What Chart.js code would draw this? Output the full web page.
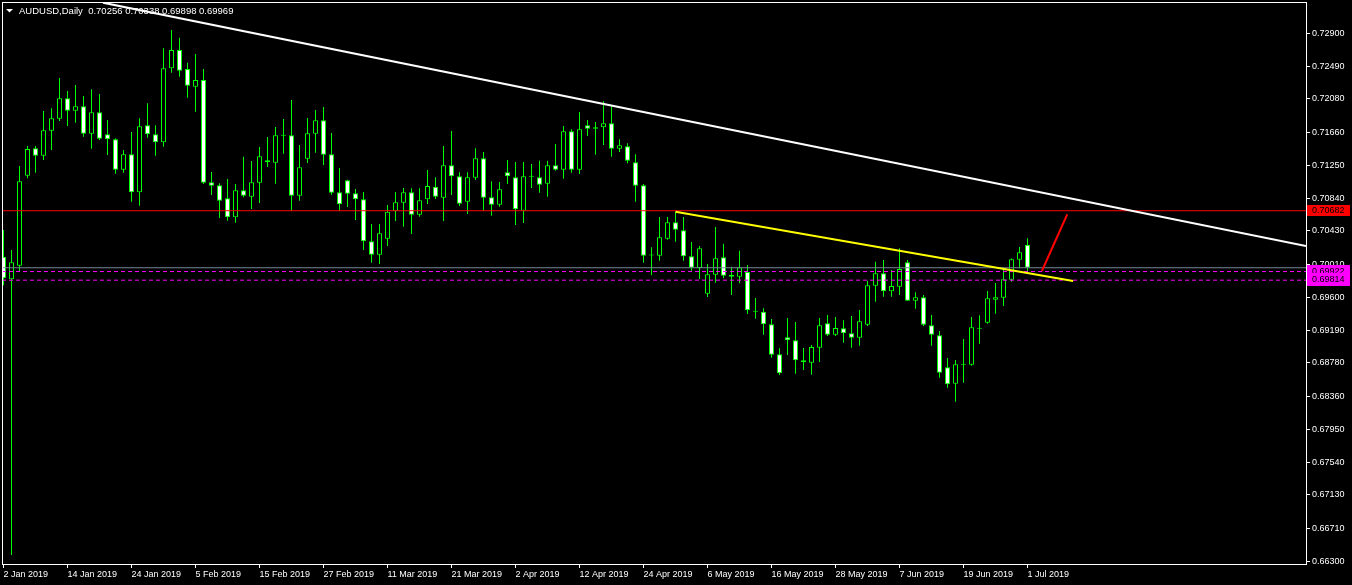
<!DOCTYPE html>
<html><head><meta charset="utf-8">
<script src="https://cdn.jsdelivr.net/npm/chart.js@4/dist/chart.umd.min.js"></script>
<style>html,body{margin:0;padding:0;background:#000;overflow:hidden}canvas{display:block}</style>
</head><body>
<canvas id="c" width="1352" height="585"></canvas>
<script>
// ---- data (AUDUSD Daily, one candle per trading day from 2 Jan 2019 to 1 Jul 2019) ----
const symbolTitle = 'AUDUSD,Daily';
const opens = [0.70108,0.69825,0.69995,0.71120,0.71463,0.71370,0.71683,0.71833,0.72088,0.71933,
0.71988,0.71645,0.71913,0.71638,0.71575,0.71195,0.71388,0.70913,0.71750,0.71638,
0.71538,0.72463,0.72691,0.72454,0.72233,0.72316,0.71038,0.71000,0.70838,0.70600,
0.70938,0.70858,0.71033,0.71313,0.71283,0.71625,0.71625,0.70870,0.71333,0.71645,
0.71813,0.71388,0.70913,0.71063,0.70900,0.70825,0.70300,0.70133,0.70333,0.70675,
0.70783,0.70913,0.70633,0.70825,0.70983,0.70845,0.71250,0.71113,0.70795,0.71095,
0.71338,0.70850,0.70758,0.71163,0.71100,0.70683,0.71108,0.71100,0.71020,0.71250,
0.71195,0.71675,0.71195,0.71750,0.71708,0.71725,0.71775,0.71458,0.71488,0.71288,
0.71000,0.70128,0.70120,0.70333,0.70538,0.70438,0.70113,0.69966,0.69645,0.69883,
0.70100,0.69858,0.69858,0.69916,0.69425,0.69420,0.69263,0.68888,0.69100,0.69063,
0.68813,0.68783,0.68970,0.69275,0.69133,0.69213,0.69150,0.69095,0.69258,0.69745,
0.69900,0.69675,0.69733,0.70038,0.69558,0.69600,0.69250,0.69125,0.68725,0.68520,
0.68758,0.68758,0.69208,0.69283,0.69570,0.69595,0.69820,0.70070,0.70256];
const highs = [0.70441,0.70191,0.71241,0.71491,0.71491,0.71929,0.71963,0.72341,0.72179,0.72254,
0.72116,0.72200,0.72141,0.71816,0.71588,0.71441,0.71666,0.71838,0.72025,0.71750,
0.72713,0.72941,0.72845,0.72533,0.72641,0.72454,0.71166,0.71025,0.71079,0.71016,
0.71358,0.71304,0.71479,0.71604,0.71729,0.71829,0.72066,0.71504,0.71841,0.71941,
0.71979,0.71654,0.71216,0.71070,0.70954,0.70916,0.70516,0.70516,0.70754,0.70916,
0.70966,0.70963,0.70963,0.71191,0.71100,0.71491,0.71679,0.71163,0.71163,0.71463,
0.71416,0.71050,0.71041,0.71316,0.71291,0.71291,0.71266,0.71308,0.71308,0.71516,
0.71741,0.71700,0.71916,0.71816,0.71791,0.72050,0.72000,0.71575,0.71525,0.71388,
0.71016,0.70225,0.70604,0.70604,0.70670,0.70604,0.70291,0.70241,0.70016,0.70479,
0.70270,0.69983,0.70183,0.70004,0.69591,0.69463,0.69329,0.68963,0.69341,0.69291,
0.68966,0.69004,0.69341,0.69379,0.69354,0.69313,0.69366,0.69441,0.69808,0.70045,
0.70066,0.69941,0.70213,0.70066,0.69663,0.69629,0.69379,0.69179,0.68841,0.68816,
0.69079,0.69354,0.69375,0.69679,0.69779,0.69963,0.70085,0.70229,0.70338];
const lows = [0.69750,0.66380,0.69920,0.71088,0.71158,0.71316,0.71441,0.71804,0.71741,0.71783,
0.71608,0.71458,0.71566,0.71379,0.71145,0.71158,0.70795,0.70745,0.71595,0.71370,
0.71483,0.72408,0.72358,0.72095,0.71920,0.71016,0.70879,0.70591,0.70558,0.70533,
0.70850,0.70704,0.70779,0.71229,0.71020,0.71395,0.70679,0.70808,0.71279,0.71408,
0.71254,0.70883,0.70679,0.70729,0.70566,0.70191,0.70033,0.70016,0.70241,0.70554,
0.70483,0.70391,0.70608,0.70766,0.70829,0.70554,0.70879,0.70741,0.70641,0.71066,
0.70683,0.70620,0.70733,0.71016,0.70504,0.70529,0.70966,0.70908,0.70858,0.71183,
0.71083,0.71158,0.71141,0.71616,0.71383,0.71504,0.71358,0.71416,0.71275,0.70795,
0.70033,0.69875,0.70058,0.70320,0.70295,0.70058,0.69933,0.69829,0.69604,0.69783,
0.69838,0.69629,0.69775,0.69391,0.69333,0.69133,0.68845,0.68629,0.68879,0.68645,
0.68691,0.68633,0.68791,0.69116,0.69116,0.69033,0.68970,0.68995,0.69241,0.69545,
0.69608,0.69608,0.69629,0.69555,0.69458,0.69241,0.68995,0.68595,0.68470,0.68295,
0.68533,0.68745,0.69020,0.69270,0.69395,0.69491,0.69795,0.69963,0.69898];
const closes = [0.69838,0.70038,0.71050,0.71454,0.71370,0.71688,0.71838,0.72088,0.71933,0.71988,
0.71645,0.71913,0.71583,0.71575,0.71195,0.71388,0.70913,0.71738,0.71638,0.71538,
0.72463,0.72691,0.72433,0.72245,0.72316,0.71033,0.70995,0.70808,0.70600,0.70938,
0.70870,0.71038,0.71363,0.71288,0.71625,0.71620,0.70870,0.71225,0.71650,0.71813,
0.71383,0.70908,0.70763,0.70895,0.70825,0.70300,0.70133,0.70400,0.70670,0.70788,
0.70913,0.70633,0.70813,0.70991,0.70858,0.71250,0.71113,0.70770,0.71100,0.71338,
0.70845,0.70758,0.70950,0.71113,0.70700,0.71113,0.71113,0.71008,0.71250,0.71195,
0.71675,0.71195,0.71700,0.71708,0.71725,0.71775,0.71458,0.71500,0.71308,0.70995,
0.70120,0.70122,0.70350,0.70538,0.70445,0.70113,0.69970,0.70213,0.69888,0.70088,
0.69870,0.69879,0.69975,0.69438,0.69420,0.69263,0.68883,0.68650,0.69063,0.68813,
0.68788,0.68979,0.69250,0.69133,0.69216,0.69150,0.69095,0.69300,0.69750,0.69900,
0.69675,0.69741,0.69954,0.69558,0.69600,0.69258,0.69133,0.68658,0.68513,0.68763,
0.68763,0.69225,0.69213,0.69588,0.69600,0.69825,0.70075,0.70163,0.69969];

const xTickIndex = [0,8,16,24,32,40,48,56,64,72,80,88,96,104,112,120,128];
const xTickLabels = ['2 Jan 2019','14 Jan 2019','24 Jan 2019','5 Feb 2019','15 Feb 2019','27 Feb 2019',
  '11 Mar 2019','21 Mar 2019','2 Apr 2019','12 Apr 2019','24 Apr 2019','6 May 2019','16 May 2019',
  '28 May 2019','7 Jun 2019','19 Jun 2019','1 Jul 2019'];
const yTickValues = [0.72900,0.72490,0.72080,0.71660,0.71250,0.70840,0.70430,0.70010,0.69600,
  0.69190,0.68780,0.68360,0.67950,0.67540,0.67130,0.66710,0.66300];

// drawn objects (candle index, price)
const whiteTrendX = [12.44, 162.81];
const whiteTrendY = [0.73283, 0.70241];
const yellowTrendX = [84.0, 133.7];
const yellowTrendY = [0.70670, 0.69804];
const redTrendX = [129.8, 132.97];
const redTrendY = [0.69929, 0.70638];
const redLevel = 0.70682;
const bidLevel = 0.69969;
const magentaLevels = [0.69922, 0.69814];

// ---- view ----
const X_MIN = -0.1875, X_MAX = 162.8125;
const Y_MIN = 0.6626625, Y_MAX = 0.7329125;
const FONT = {family: '"Liberation Sans", Arial, sans-serif', size: 9};
const FG = '#ffffff';

const hLine = (v, color, dash) => ({
  type: 'line', data: [{x: X_MIN, y: v}, {x: X_MAX, y: v}],
  borderColor: color, borderWidth: 1, borderDash: dash || [], pointRadius: 0, order: 1
});
const seg = (xs, ys, color, w) => ({
  type: 'line', data: xs.map((x, k) => ({x, y: ys[k]})),
  borderColor: color, borderWidth: w, pointRadius: 0, order: 0
});

const overlay = {
  id: 'overlay',
  beforeDraw(chart) {
    const c = chart.ctx;
    c.save(); c.fillStyle = '#000'; c.fillRect(0, 0, chart.width, chart.height); c.restore();
  },
  afterDraw(chart) {
    const c = chart.ctx, a = chart.chartArea, y = chart.scales.y;
    c.save();
    // frame
    c.strokeStyle = FG; c.lineWidth = 1;
    c.strokeRect(a.left + 0.5, a.top + 0.5, a.right - a.left, a.bottom - a.top);
    // title
    c.fillStyle = FG;
    c.beginPath(); c.moveTo(6, 9); c.lineTo(13, 9); c.lineTo(9.5, 12.5); c.closePath(); c.fill();
    c.font = '9.5px "Liberation Sans", Arial, sans-serif';
    c.textBaseline = 'middle'; c.textAlign = 'left';
    c.fillText(symbolTitle + '  ' + [opens[128], highs[128], lows[128], closes[128]].map(v => v.toFixed(5)).join(' '), 19, 11);
    // price tags
    c.font = '9px "Liberation Sans", Arial, sans-serif';
    const tag = (v, bg, h) => {
      const py = Math.round(y.getPixelForValue(v));
      c.fillStyle = bg; c.fillRect(a.right + 1, py - Math.floor(h / 2) - 1, 43, h);
      c.fillStyle = '#000'; c.textAlign = 'left';
      c.fillText(v.toFixed(5), a.right + 6, py);
    };
    tag(redLevel, '#ff0000', 11);
    tag(magentaLevels[0], '#ff00ff', 13);
    tag(magentaLevels[1], '#ff00ff', 13);
    c.restore();
  }
};

new Chart(document.getElementById('c'), {
  type: 'bar',
  data: {
    datasets: [
      seg(whiteTrendX, whiteTrendY, '#ffffff', 2),
      seg(yellowTrendX, yellowTrendY, '#ffff00', 2),
      seg(redTrendX, redTrendY, '#ff0000', 2),
      hLine(redLevel, '#ff0000'),
      hLine(bidLevel, '#778899'),
      hLine(magentaLevels[0], '#ff00ff', [4, 3]),
      hLine(magentaLevels[1], '#ff00ff', [4, 3]),
      {
        type: 'bar', order: 2,
        data: opens.map((o, i) => ({x: i, y: [o, closes[i]]})),
        backgroundColor: ctx => (closes[ctx.dataIndex] < opens[ctx.dataIndex] ? '#ffffff' : '#000000'),
        borderColor: '#00ff00', borderWidth: 1, borderSkipped: false,
        barThickness: 5, grouped: false, inflateAmount: 0, minBarLength: 1
      },
      {
        type: 'bar', order: 3,
        data: opens.map((o, i) => ({x: i, y: [lows[i], highs[i]]})),
        backgroundColor: '#00ff00', borderWidth: 0,
        barThickness: 1, grouped: false, inflateAmount: 0, minBarLength: 1
      }
    ]
  },
  options: {
    responsive: false, animation: false, maintainAspectRatio: false,
    layout: {padding: {left: 2, top: 2, right: 0, bottom: 0}},
    plugins: {legend: {display: false}, tooltip: {enabled: false}},
    scales: {
      x: {
        type: 'linear', position: 'bottom', min: X_MIN, max: X_MAX, offset: false,
        afterBuildTicks: s => { s.ticks = xTickIndex.map(v => ({value: v})); },
        afterFit: s => { s.height = 21; s.paddingLeft = 0; s.paddingRight = 0; },
        ticks: {
          autoSkip: false, maxRotation: 0, align: 'start', labelOffset: 0, padding: 1,
          color: FG, font: FONT,
          callback: (v) => xTickLabels[xTickIndex.indexOf(v)]
        },
        grid: {drawOnChartArea: false, drawTicks: true, tickLength: 4, color: FG, offset: false},
        border: {color: FG}
      },
      y: {
        type: 'linear', position: 'right', min: Y_MIN, max: Y_MAX,
        afterBuildTicks: s => { s.ticks = yTickValues.map(v => ({value: v})); },
        afterFit: s => { s.width = 46; s.paddingTop = 0; s.paddingBottom = 0; },
        ticks: {
          autoSkip: false, padding: 2, color: FG, font: FONT,
          callback: (v) => Number(v).toFixed(5)
        },
        grid: {drawOnChartArea: false, drawTicks: true, tickLength: 4, color: FG},
        border: {color: FG}
      }
    }
  },
  plugins: [overlay]
});
</script></body></html>
